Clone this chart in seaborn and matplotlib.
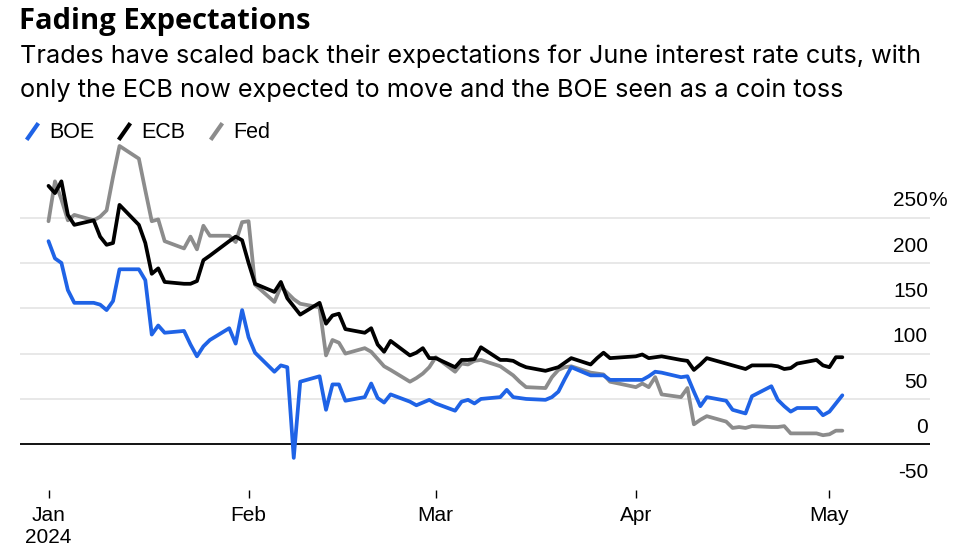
import pandas as pd
import seaborn as sns
import matplotlib.pyplot as plt
from matplotlib.lines import Line2D

# Business days shown in the chart (2024)
dates = [
    "01-01", "01-02", "01-03", "01-04", "01-05", "01-08", "01-09", "01-10", "01-11", "01-12",
    "01-15", "01-16", "01-17", "01-18", "01-19", "01-22", "01-23", "01-24", "01-25", "01-26",
    "01-29", "01-30", "01-31",
    "02-01", "02-02", "02-05", "02-06", "02-07", "02-08", "02-09", "02-12", "02-13", "02-14",
    "02-15", "02-16", "02-19", "02-20", "02-21", "02-22", "02-23", "02-26", "02-27", "02-28",
    "02-29",
    "03-01", "03-04", "03-05", "03-06", "03-07", "03-08", "03-11", "03-12", "03-13", "03-14",
    "03-15", "03-18", "03-19", "03-20", "03-21", "03-22", "03-25", "03-26", "03-27", "03-28",
    "04-01", "04-02", "04-03", "04-04", "04-05", "04-08", "04-09", "04-10", "04-11", "04-12",
    "04-15", "04-16", "04-17", "04-18", "04-19", "04-22", "04-23", "04-24", "04-25", "04-26",
    "04-29", "04-30",
    "05-01", "05-02", "05-03",
]

# Priced-in June cut probability (%)
boe = [
    224, 205, 200, 170, 156, 156, 154, 148, 158, 193, 193, 181, 121, 131, 123, 125, 110, 97, 108, 115,
    128, 111, 148,
    118, 101, 80, 87, 85, -15, 69, 75, 38, 66, 66, 48, 52, 67, 51, 46, 55, 47, 43, 46, 49,
    45, 37, 47, 49, 45, 50, 52, 60, 52, 51, 50, 49, 52, 58, 72, 85, 76, 76, 76, 71,
    71, 71, 75, 80, 79, 74, 75, 58, 42, 52, 48, 38, 36, 34, 53, 64, 49, 42, 36, 40, 40, 32,
    36, 45, 54,
]
ecb = [
    285, 277, 290, 253, 242, 247, 229, 220, 222, 264, 242, 222, 188, 194, 179, 177, 177, 180, 203, 208,
    224, 229, 225,
    200, 177, 168, 179, 161, 152, 143, 156, 133, 142, 144, 127, 123, 128, 110, 102, 114, 98, 101, 106, 95,
    95, 85, 93, 93, 94, 107, 93, 93, 92, 88, 85, 81, 83, 85, 90, 95, 88, 95, 101, 95,
    97, 99, 95, 96, 97, 93, 92, 82, 88, 95, 89, 87, 85, 83, 87, 87, 86, 83, 84, 89, 93, 87,
    85, 96, 96,
]
fed = [
    246, 290, 270, 247, 253, 247, 251, 258, 295, 329, 315, 280, 246, 248, 224, 216, 229, 215, 241, 230,
    230, 223, 245,
    246, 176, 157, 174, 167, 160, 155, 151, 98, 115, 112, 100, 106, 102, 94, 86, 82, 69, 73, 78, 85,
    96, 80, 89, 88, 92, 93, 86, 81, 76, 69, 63, 62, 74, 82, 85, 86, 79, 78, 77, 69,
    63, 67, 63, 74, 55, 52, 62, 22, 27, 31, 25, 18, 19, 18, 20, 19, 19, 20, 12, 12, 12, 10,
    11, 15, 15,
]

banks = ["BOE", "ECB", "Fed"]
colors = ["#1f63e6", "#000000", "#8c8c8c"]
y_ticks = [-50, 0, 50, 100, 150, 200, 250]
x_ticks = ["2024-01-01", "2024-02-01", "2024-03-01", "2024-04-01", "2024-05-01"]
x_labels = ["Jan\n2024", "Feb", "Mar", "Apr", "May"]

# Long-form table for seaborn
dt = pd.to_datetime(["2024-" + d for d in dates])
df = pd.concat([
    pd.DataFrame({"date": dt, "value": vals, "bank": name})
    for name, vals in zip(banks, [boe, ecb, fed])
])

sns.set_style("white")
plt.rcParams["font.family"] = ["Liberation Sans", "DejaVu Sans"]
plt.rcParams["text.color"] = "black"
plt.rcParams["xtick.color"] = "black"
plt.rcParams["xtick.labelcolor"] = "black"

fig = plt.figure(figsize=(9.73, 5.59), dpi=100)
ax = fig.add_axes([20 / 973, 1 - 489.6 / 559, 910 / 973, 353.6 / 559])

# Gridlines and zero line
for v in y_ticks[2:]:
    ax.axhline(v, color="#e6e6e6", linewidth=1.3, zorder=0)
ax.axhline(0, color="black", linewidth=1.3, zorder=1)

sns.lineplot(
    data=df, x="date", y="value", hue="bank",
    hue_order=["Fed", "ECB", "BOE"],
    palette=dict(zip(banks, colors)),
    linewidth=2.7, legend=False, ax=ax, zorder=3,
)

ax.set_xlim(pd.Timestamp("2023-12-27 14:00"), pd.Timestamp("2024-05-16 14:00"))
ax.set_ylim(-50, 340)
for s in ax.spines.values():
    s.set_visible(False)

ax.set_xticks(pd.to_datetime(x_ticks))
ax.set_xticklabels(x_labels, fontsize=15)
ax.tick_params(axis="x", direction="out", length=6, width=1, color="black", pad=6, bottom=True)
ax.set_yticks([])
ax.set_xlabel("")
ax.set_ylabel("")

# Right-side value labels sitting above their gridlines
for v in y_ticks:
    ax.annotate(str(v), xy=(1, v), xycoords=("axes fraction", "data"),
                xytext=(-1.5, 8), textcoords="offset points",
                ha="right", va="baseline", fontsize=15)
ax.annotate("%", xy=(1, y_ticks[-1]), xycoords=("axes fraction", "data"),
            xytext=(-1, 8), textcoords="offset points",
            ha="left", va="baseline", fontsize=15)

# Title and subtitle
fig.text(19 / 973, 1 - 29.5 / 559, "Fading Expectations", fontsize=21,
         fontweight="bold", va="baseline", family=["Open Sans", "DejaVu Sans"])
head_font = ["Inter", "DejaVu Sans"]
fig.text(20 / 973, 1 - 63 / 559,
         "Trades have scaled back their expectations for June interest rate cuts, with",
         fontsize=18.2, va="baseline", family=head_font)
fig.text(20 / 973, 1 - 97.5 / 559,
         "only the ECB now expected to move and the BOE seen as a coin toss",
         fontsize=18.2, va="baseline", family=head_font)

# Legend with slash markers
handles = [
    Line2D([], [], color=c, marker=[(-0.7, -1), (0.7, 1)], markersize=12,
           markeredgewidth=3, linestyle="None")
    for c in colors
]
fig.legend(handles, banks, loc="upper left", bbox_to_anchor=(6 / 973, 1 - 107 / 559),
           ncol=3, frameon=False, fontsize=15.5, handlelength=1.0,
           handletextpad=0.3, columnspacing=0.9, borderpad=0.2)

plt.savefig("out.png", dpi=100)
